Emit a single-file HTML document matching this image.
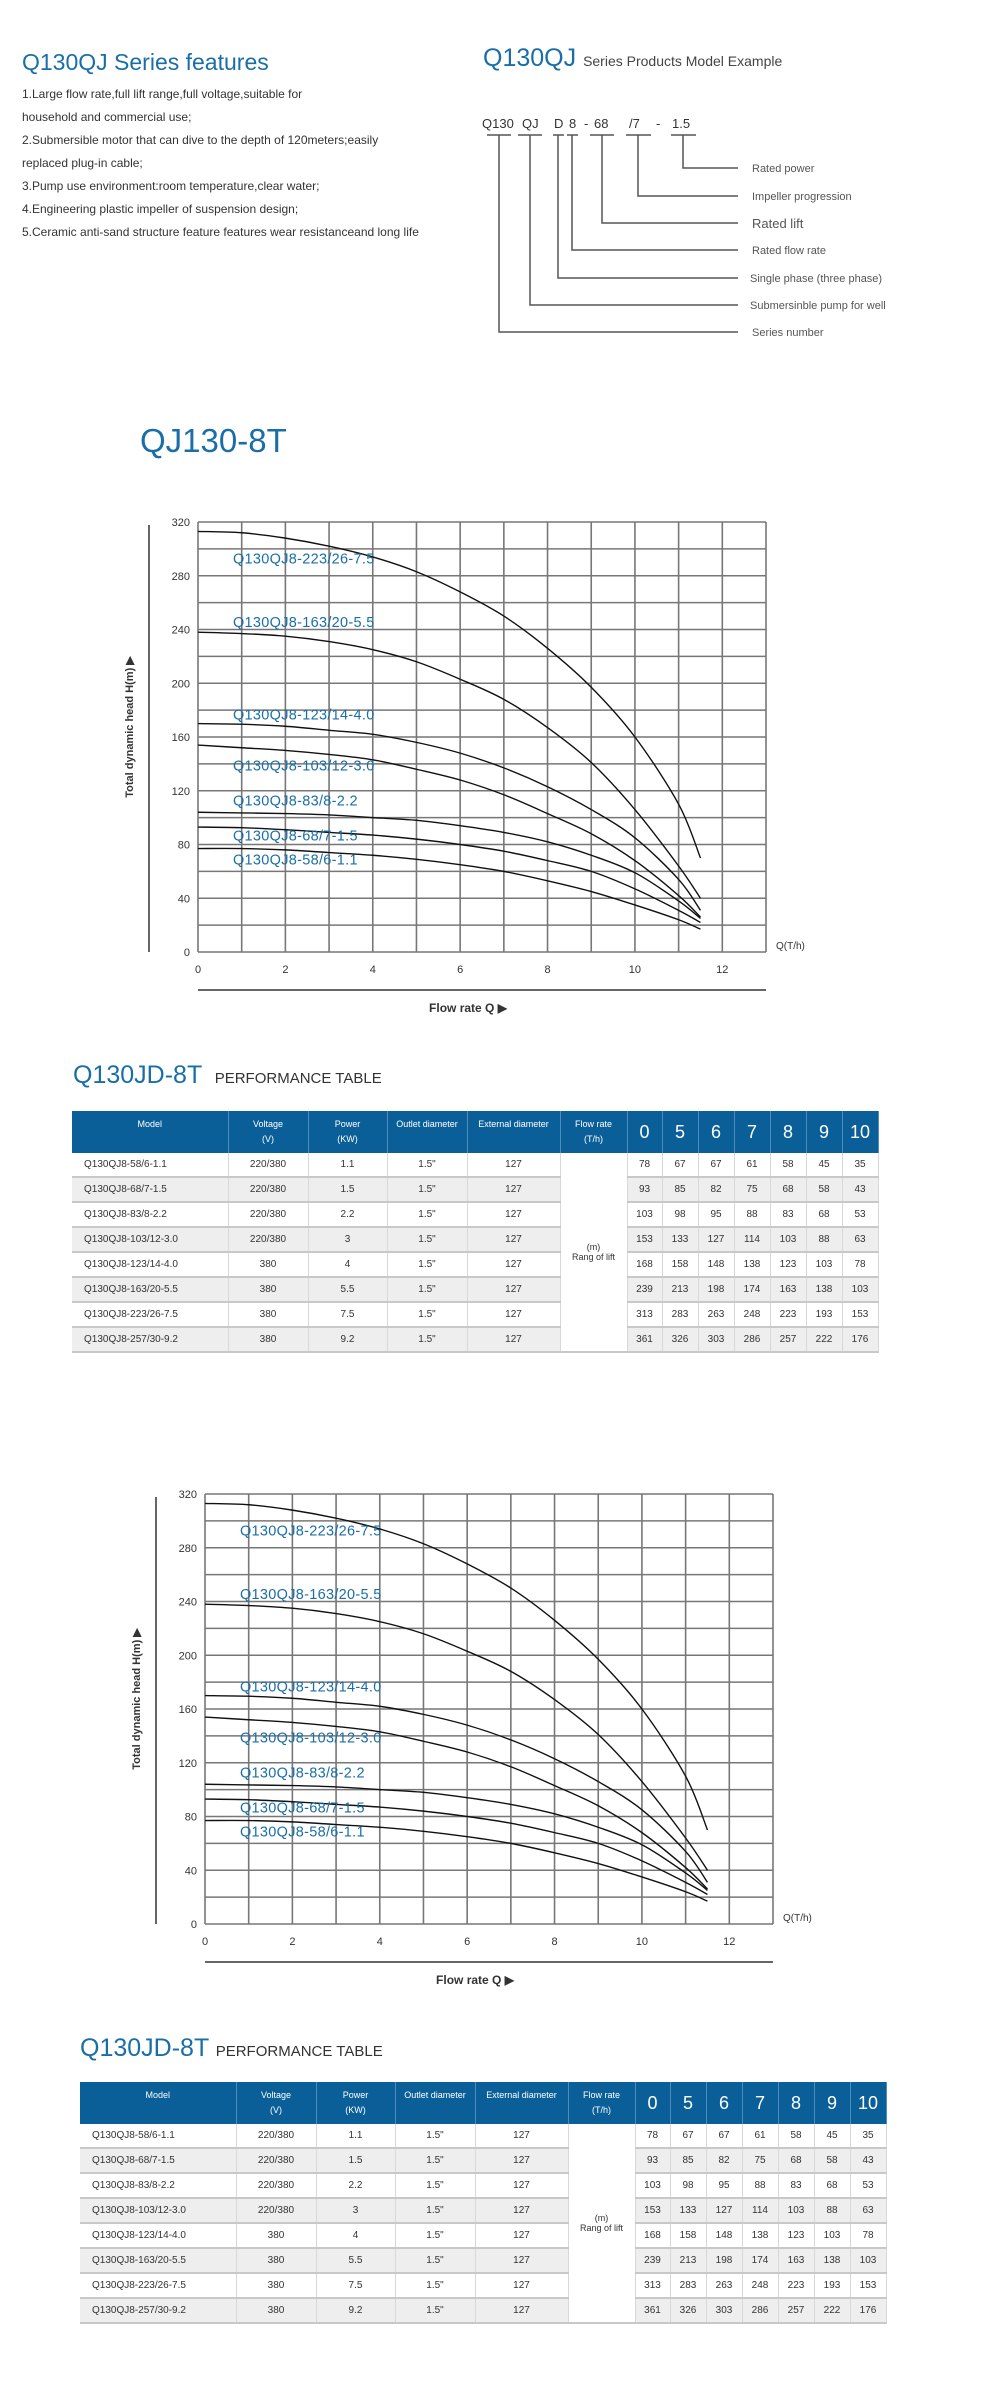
<!DOCTYPE html>
<html><head><meta charset="utf-8">
<style>
body{margin:0;background:#fff;}
#page{position:relative;width:1000px;height:2384px;overflow:hidden;background:#fff;font-family:"Liberation Sans",sans-serif;}
.abs{position:absolute;white-space:nowrap;}
.blue{color:#1a6ea8;}
.feat{font-size:12px;color:#333;left:22px;}
table.perf{position:absolute;border-collapse:collapse;table-layout:fixed;font-family:"Liberation Sans",sans-serif;}
table.perf td{text-align:center;font-size:10px;color:#333;border-right:1px solid #d8d8d8;border-bottom:2px solid #c8c8c8;height:23px;padding:0;}
table.perf tr.h td{background:#0b5f98;color:#fff;height:42px;border-right:1px solid #4d8cbc;border-bottom:none;font-size:9px;line-height:15px;}
table.perf tr.h td.n{font-size:18px;}
table.perf tr.g td{background:#eeeeee;}
table.perf td.m{text-align:left;padding-left:12px;}
table.perf td.fr{background:#fff !important;font-size:9px;}
</style></head>
<body>
<div id="page">

<div class="abs blue" style="left:22px;top:49px;font-size:23px;">Q130QJ Series features</div>
<div class="abs feat" style="top:87px">1.Large flow rate,full lift range,full voltage,suitable for</div>
<div class="abs feat" style="top:110px">household and commercial use;</div>
<div class="abs feat" style="top:133px">2.Submersible motor that can dive to the depth of 120meters;easily</div>
<div class="abs feat" style="top:156px">replaced plug-in cable;</div>
<div class="abs feat" style="top:179px">3.Pump use environment:room temperature,clear water;</div>
<div class="abs feat" style="top:202px">4.Engineering plastic impeller of suspension design;</div>
<div class="abs feat" style="top:225px;width:458px;overflow:hidden">5.Ceramic anti-sand structure feature features wear resistanceand long life</div>

<div class="abs blue" style="left:483px;top:44px;font-size:25px;">Q130QJ <span style="font-size:14px;color:#444">Series Products Model Example</span></div>

<svg class="abs" style="left:0;top:0" width="1000" height="360">
 <g font-family="Liberation Sans, sans-serif" font-size="13" fill="#333">
  <text x="482" y="128">Q130</text><text x="522" y="128">QJ</text><text x="554" y="128">D</text><text x="569" y="128">8</text><text x="584" y="128">-</text><text x="594" y="128">68</text><text x="629" y="128">/7</text><text x="656" y="128">-</text><text x="672" y="128">1.5</text>
 </g>
 <g stroke="#555" stroke-width="1.5" fill="none">
  <path d="M487 135H511M518 135H542M553 135H564M567 135H578M590 135H614M626 135H651M671 135H696"/>
  <path d="M683 135V168H738M638 135V196H738M602 135V223H738M572 135V250H738M558 135V278H738M530 135V305H738M499 135V332H738"/>
 </g>
 <g font-family="Liberation Sans, sans-serif" font-size="11" fill="#555">
  <text x="752" y="172">Rated power</text><text x="752" y="200">Impeller progression</text><text x="752" y="228" font-size="13">Rated lift</text><text x="752" y="254">Rated flow rate</text><text x="750" y="282">Single phase (three phase)</text><text x="750" y="309">Submersinble pump for well</text><text x="752" y="336">Series number</text>
 </g>
</svg>

<div class="abs blue" style="left:140px;top:422px;font-size:33px;">QJ130-8T</div>

<svg id="chart1" class="abs" style="left:0;top:0" width="1000" height="1050"></svg>
<svg id="chart2" class="abs" style="left:0;top:0" width="1000" height="2050"></svg>

<div class="abs blue" style="left:73px;top:1061px;font-size:25px;">Q130JD-8T <span style="font-size:15px;color:#333;margin-left:6px">PERFORMANCE TABLE</span></div>
<div id="t1wrap"></div>
<div class="abs blue" style="left:80px;top:2034px;font-size:25px;">Q130JD-8T <span style="font-size:15px;color:#333;">PERFORMANCE TABLE</span></div>
<div id="t2wrap"></div>

</div>
<script>
// ---- chart data ----
const flowQ = [0,1,2,3,4,5,6,7,8,9,10,11,11.5];
const head223 = [313,312,308,302,294,283,268,250,226,197,160,110,70];
const head163 = [238,237,235,231,225,216,203,188,167,141,106,64,40];
const head123 = [170,169.5,168,165,162,156,148,137,123,106,85,54,31];
const head103 = [154,152,150,147,143,136,128,117,103,88,68,42,26];
const head83 = [104,103.5,103,102,100,98,94,89,82,72,59,38,25];
const head68 = [93,92.5,91,89,87,84,80,75,68,60,47,31,22];
const head58 = [77,77,76,74,72,69,65,60,53,45,35,24,17];
const seriesNames = ["Q130QJ8-223/26-7.5","Q130QJ8-163/20-5.5","Q130QJ8-123/14-4.0","Q130QJ8-103/12-3.0","Q130QJ8-83/8-2.2","Q130QJ8-68/7-1.5","Q130QJ8-58/6-1.1"];
const labelH = [289,242,173,135,109,83,65];
const yTicks = [0,40,80,120,160,200,240,280,320];
const xTicks = [0,2,4,6,8,10,12];
const allSeries = [head223,head163,head123,head103,head83,head68,head58];

const NS="http://www.w3.org/2000/svg";
function mk(tag,attrs,parent){const e=document.createElementNS(NS,tag);for(const k in attrs)e.setAttribute(k,attrs[k]);parent.appendChild(e);return e;}

function drawChart(svg,L,T){
  const W=568,H=430;
  const xs=q=>L+q*W/13, ys=h=>T+H-h*H/320;
  const g=mk('g',{},svg);
  
  
  for(let i=0;i<=13;i++){const l=mk('line',{x1:xs(i),x2:xs(i),y1:T,y2:T+H,stroke:'#777','stroke-width':1.6},g);}
  for(let i=0;i<=16;i++){const l=mk('line',{x1:L,x2:L+W,y1:ys(i*20),y2:ys(i*20),stroke:'#777','stroke-width':1.6},g);}
  yTicks.forEach(v=>{const t=mk('text',{x:L-8,y:ys(v)+4,'text-anchor':'end','font-size':11,fill:'#333','font-family':'Liberation Sans, sans-serif'},g);t.textContent=v;});
  xTicks.forEach(v=>{const t=mk('text',{x:xs(v),y:T+H+21,'text-anchor':'middle','font-size':11,fill:'#333','font-family':'Liberation Sans, sans-serif'},g);t.textContent=v;});
  const ax=mk('line',{x1:L-49,x2:L-49,y1:T+3,y2:T+H,stroke:'#333','stroke-width':1.5},g);
  
  const bx=mk('line',{x1:L,x2:L+W,y1:T+H+38,y2:T+H+38,stroke:'#333','stroke-width':1.5},g);
  
  const yt=mk('text',{x:0,y:0,'text-anchor':'middle','font-size':11,'font-weight':'bold',fill:'#333','font-family':'Liberation Sans, sans-serif',transform:`translate(${L-65},${T+H/2-10}) rotate(-90)`},g);
  yt.textContent='Total dynamic head H(m) \u25B6';
  
  const xt=mk('text',{x:L+270,y:T+H+60,'text-anchor':'middle','font-size':12,'font-weight':'bold',fill:'#333','font-family':'Liberation Sans, sans-serif'},g);
  xt.textContent='Flow rate Q  \u25B6';
  
  const qu=mk('text',{x:L+W+10,y:T+H-3,'font-size':10,fill:'#333','font-family':'Liberation Sans, sans-serif'},g);
  qu.textContent='Q(T/h)';
  
  allSeries.forEach((arr,si)=>{
    const pts=flowQ.map((q,i)=>[xs(q),ys(arr[i])]);
    let d='M'+pts[0][0]+' '+pts[0][1];
    for(let i=0;i<pts.length-1;i++){
      const p0=pts[Math.max(0,i-1)],p1=pts[i],p2=pts[i+1],p3=pts[Math.min(pts.length-1,i+2)];
      const c1=[p1[0]+(p2[0]-p0[0])/6,p1[1]+(p2[1]-p0[1])/6],c2=[p2[0]-(p3[0]-p1[0])/6,p2[1]-(p3[1]-p1[1])/6];
      d+=` C${c1[0]} ${c1[1]} ${c2[0]} ${c2[1]} ${p2[0]} ${p2[1]}`;
    }
    const p=mk('path',{d:d,fill:'none',stroke:'#111','stroke-width':1.4},g);
    
    
  });
  seriesNames.forEach((n,i)=>{
    const t=mk('text',{x:xs(0.8),y:ys(labelH[i]),'font-size':14.5,fill:'#1a6ea8','font-family':'Liberation Sans, sans-serif','letter-spacing':'0.3'},g);
    t.textContent=n;
    
    
  });
}
drawChart(document.getElementById('chart1'),198,522);
drawChart(document.getElementById('chart2'),205,1494);

// ---- table data ----
const models=["Q130QJ8-58/6-1.1","Q130QJ8-68/7-1.5","Q130QJ8-83/8-2.2","Q130QJ8-103/12-3.0","Q130QJ8-123/14-4.0","Q130QJ8-163/20-5.5","Q130QJ8-223/26-7.5","Q130QJ8-257/30-9.2"];
const voltage=["220/380","220/380","220/380","220/380","380","380","380","380"];
const power=["1.1","1.5","2.2","3","4","5.5","7.5","9.2"];
const flowCols=["0","5","6","7","8","9","10"];
const lift=[[78,67,67,61,58,45,35],[93,85,82,75,68,58,43],[103,98,95,88,83,68,53],[153,133,127,114,103,88,63],[168,158,148,138,123,103,78],[239,213,198,174,163,138,103],[313,283,263,248,223,193,153],[361,326,303,286,257,222,176]];
function buildTable(id,left,top){
  const widths=[156,80,79,80,93,67,35,36,36,36,36,36,36];
  let h=`<table class="perf" style="left:${left}px;top:${top}px;width:806px"><colgroup>${widths.map(w=>`<col style="width:${w}px">`).join('')}</colgroup>`;
  h+=`<tr class="h"><td>Model<br>&nbsp;</td><td>Voltage<br>(V)</td><td>Power<br>(KW)</td><td>Outlet diameter<br>&nbsp;</td><td>External diameter<br>&nbsp;</td><td>Flow rate<br>(T/h)</td>${flowCols.map(c=>`<td class="n">${c}</td>`).join('')}</tr>`;
  models.forEach((m,i)=>{
    h+=`<tr class="${i%2?'g':''}"><td class="m">${m}</td><td>${voltage[i]}</td><td>${power[i]}</td><td>1.5"</td><td>127</td>`;
    if(i===0)h+=`<td class="fr" rowspan="8">(m)<br>Rang of lift</td>`;
    h+=lift[i].map(v=>`<td>${v}</td>`).join('')+'</tr>';
  });
  h+='</table>';
  document.getElementById(id).outerHTML=h;
}
buildTable('t1wrap',72,1111);
buildTable('t2wrap',80,2082);
</script>
</body></html>
